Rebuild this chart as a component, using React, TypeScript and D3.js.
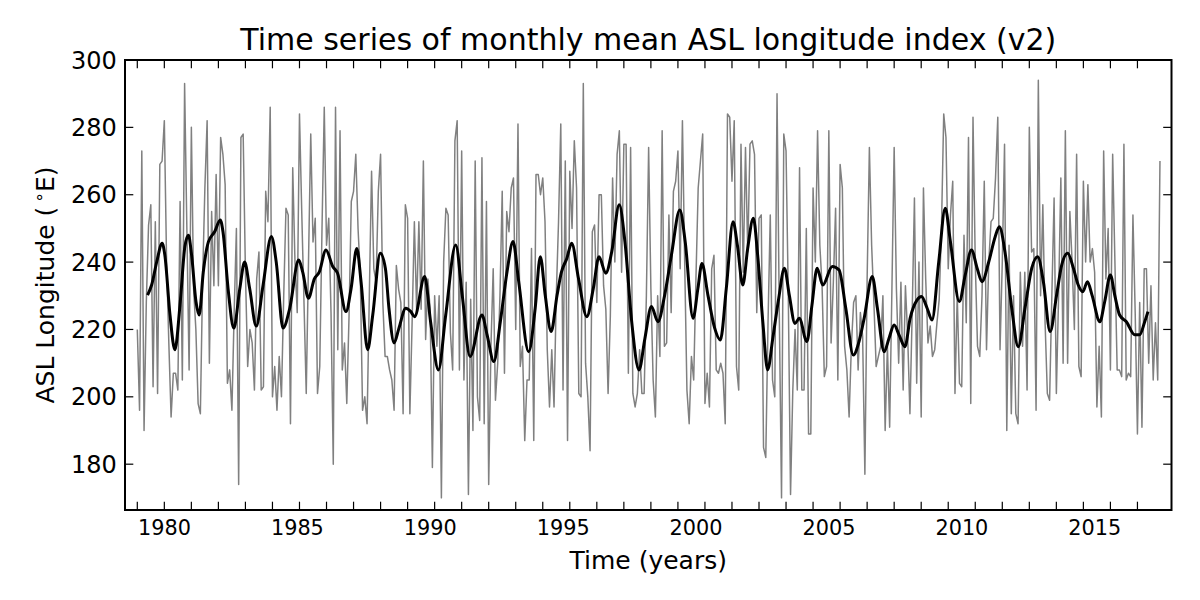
import * as d3 from 'd3'

// monthly ASL longitude index (deg E), one row per year, starting Jan 1979
const lon1979to1988 = [
  220, 196, 273, 190, 228, 251, 257, 203, 252, 201, 269, 270,
  282, 240, 216, 194, 207, 207, 202, 258, 205, 293, 250, 208,
  280, 232, 220, 198, 195, 235, 262, 282, 210, 255, 233, 266,
  233, 277, 272, 263, 204, 208, 196, 225, 250, 174, 277, 278,
  237, 209, 220, 216, 202, 235, 243, 202, 203, 261, 252, 286,
  200, 209, 196, 212, 200, 230, 256, 254, 192, 268, 240, 225,
  284, 255, 228, 201, 240, 278, 246, 253, 201, 209, 250, 286,
  245, 253, 225, 180, 286, 214, 279, 208, 216, 198, 224, 258,
  261, 272, 250, 236, 196, 200, 192, 230, 267, 238, 234, 261,
  272, 228, 212, 212, 208, 205, 196, 239, 232, 228, 195, 257,
]
const lon1989to1998 = [
  253, 195, 222, 252, 226, 252, 226, 270, 217, 235, 226, 179,
  230, 215, 230, 170, 240, 256, 254, 219, 208, 276, 282, 208,
  273, 205, 234, 171, 229, 190, 270, 200, 193, 271, 192, 258,
  174, 215, 238, 199, 210, 230, 261, 207, 255, 249, 262, 265,
  220, 281, 209, 215, 187, 205, 205, 244, 187, 266, 266, 260,
  265, 252, 214, 197, 214, 197, 230, 252, 281, 202, 270, 187,
  267, 250, 276, 262, 201, 200, 293, 210, 200, 184, 249, 251,
  228, 260, 260, 233, 226, 201, 224, 265, 240, 272, 279, 237,
  275, 275, 207, 274, 201, 197, 201, 214, 201, 201, 230, 274,
  232, 205, 194, 230, 212, 279, 215, 216, 254, 225, 261, 264,
]
const lon1999to2008 = [
  273, 238, 282, 240, 202, 192, 212, 205, 235, 262, 270, 278,
  198, 207, 197, 238, 242, 208, 207, 210, 207, 192, 284, 283,
  264, 282, 209, 202, 275, 237, 274, 243, 275, 276, 272, 225,
  253, 254, 185, 182, 222, 254, 205, 200, 290, 225, 170, 278,
  273, 230, 171, 202, 220, 202, 268, 202, 202, 250, 189, 189,
  262, 240, 279, 245, 233, 206, 209, 279, 216, 234, 256, 205,
  269, 262, 215, 208, 194, 215, 228, 230, 208, 225, 218, 177,
  235, 274, 245, 228, 209, 212, 215, 230, 190, 215, 191, 232,
  274, 232, 210, 234, 202, 233, 218, 195, 225, 259, 204, 240,
  194, 262, 235, 216, 221, 212, 214, 222, 229, 250, 284, 277,
]
const lon2009to2016 = [
  238, 254, 264, 201, 230, 204, 203, 248, 222, 277, 198, 283,
  240, 215, 212, 230, 264, 214, 240, 252, 253, 265, 283, 214,
  240, 275, 190, 245, 195, 230, 195, 192, 237, 215, 237, 202,
  280, 243, 244, 196, 294, 230, 257, 222, 201, 199, 230, 259,
  201, 230, 265, 210, 279, 210, 255, 240, 220, 272, 209, 206,
  264, 240, 263, 240, 244, 237, 197, 215, 194, 273, 235, 250,
  208, 272, 240, 208, 208, 206, 275, 205, 207, 206, 254, 225,
  189, 228, 191, 238, 238, 210, 233, 205, 222, 205, 270,
]
const startYear = 1979

const smoothKnots: [number, number][] = [
  [1979.38, 230.2], [1979.53, 233.2], [1979.72, 240.1], [1979.92, 245.6], [1980.02, 242],
  [1980.21, 224.3], [1980.39, 214], [1980.58, 227.3], [1980.76, 244.6], [1980.89, 248],
  [1981.01, 242], [1981.17, 228.3], [1981.29, 224.3], [1981.44, 237], [1981.63, 246],
  [1981.86, 249], [1982.07, 252.5], [1982.17, 249], [1982.36, 232], [1982.57, 220.4],
  [1982.79, 232], [1982.97, 240], [1983.16, 232], [1983.4, 221], [1983.65, 233],
  [1983.96, 247.6], [1984.14, 240], [1984.39, 220.4], [1984.64, 226.3], [1984.97, 240.6],
  [1985.12, 237], [1985.33, 229.3], [1985.55, 235], [1985.73, 237], [1985.98, 243.6],
  [1986.23, 238.7], [1986.41, 236.7], [1986.72, 225.3], [1986.91, 232.2], [1987.12, 244],
  [1987.28, 234], [1987.52, 214], [1987.71, 224.3], [1987.99, 242.6], [1988.18, 238],
  [1988.31, 226.3], [1988.5, 216], [1988.68, 220.4], [1988.93, 226.3], [1989.12, 225.3],
  [1989.26, 223.8], [1989.63, 235.7], [1989.85, 222.3], [1990.14, 208], [1990.41, 224.3],
  [1990.78, 245.1], [1991.02, 230.2], [1991.31, 212], [1991.75, 224.3], [1991.94, 218.4],
  [1992.19, 210.5], [1992.43, 222.3], [1992.68, 237.2], [1992.9, 246.1], [1993.11, 234.2],
  [1993.48, 213.4], [1993.72, 226.3], [1993.91, 241.6], [1994.09, 230.2], [1994.31, 219.4],
  [1994.53, 230.2], [1994.69, 237], [1994.89, 241.1], [1995.07, 245.6], [1995.32, 235.2],
  [1995.63, 223.8], [1995.87, 232.2], [1996.08, 241.6], [1996.33, 236.7], [1996.55, 243],
  [1996.83, 257], [1997.04, 246], [1997.29, 222.3], [1997.56, 208], [1997.78, 217.4],
  [1998.02, 226.8], [1998.26, 222.3], [1998.51, 230.2], [1998.76, 242.1], [1999.07, 255.5],
  [1999.27, 246], [1999.56, 223.3], [1999.74, 232.2], [1999.89, 239.6], [2000.11, 230.2],
  [2000.36, 220.4], [2000.57, 216.9], [2000.79, 232.2], [2001.04, 252], [2001.2, 245],
  [2001.4, 233.2], [2001.58, 244], [2001.79, 253], [2001.95, 242.1], [2002.14, 222.3],
  [2002.32, 208], [2002.51, 217.4], [2002.73, 229.3], [2002.94, 238.2], [2003.12, 230.2],
  [2003.33, 221.8], [2003.49, 223.3], [2003.77, 216.4], [2003.96, 227.3], [2004.15, 238.2],
  [2004.36, 233.2], [2004.71, 238.7], [2004.96, 237.7], [2005.21, 226.3], [2005.49, 212.4],
  [2005.7, 216.4], [2005.89, 223.3], [2006.19, 235.7], [2006.38, 226.3], [2006.63, 213.4],
  [2006.81, 217.4], [2007.0, 221.3], [2007.18, 218.4], [2007.4, 214.9], [2007.59, 223.3],
  [2007.85, 228.8], [2008.01, 229.8], [2008.22, 226.3], [2008.4, 222.8], [2008.65, 240.1],
  [2008.89, 256], [2009.08, 246.1], [2009.41, 228.3], [2009.63, 236.2], [2009.86, 243.6],
  [2010.07, 238.2], [2010.25, 234.2], [2010.5, 240.1], [2010.74, 247.6], [2010.89, 250.5],
  [2011.1, 243], [2011.35, 226.3], [2011.59, 214.9], [2011.84, 226.3], [2012.09, 238.2],
  [2012.31, 241.6], [2012.52, 234.2], [2012.77, 219.4], [2013.01, 230.2], [2013.2, 239.2],
  [2013.42, 242.6], [2013.63, 238.2], [2013.81, 233.2], [2013.98, 231.2], [2014.15, 234.2],
  [2014.32, 230.2], [2014.61, 222.3], [2014.79, 228.3], [2015.0, 236.2], [2015.16, 230.2],
  [2015.34, 224.3], [2015.59, 222.3], [2015.9, 218.4], [2016.08, 218.4], [2016.27, 222.3],
  [2016.39, 225.3],
]

const yTicks = [180, 200, 220, 240, 260, 280, 300]
const xLabelYears = [1980, 1985, 1990, 1995, 2000, 2005, 2010, 2015]
const xTickYears = d3.range(1979, 2017)

const W = 1200
const H = 600
const plot = { left: 125, right: 1171.5, top: 60, bottom: 510 }
const font = '"DejaVu Sans", sans-serif'
const tickLen = 8.3

export default function App() {
  // data + tick axis (one tick per 12 samples)
  const x = d3.scaleLinear().domain([1978.545, 2017.26]).range([plot.left, plot.right])
  // calendar axis used for the year labels (slightly different span in the original)
  const xCal = d3.scaleLinear().domain([1978.514, 2017.886]).range([plot.left, plot.right])
  const y = d3.scaleLinear().domain([166.4, 300]).range([plot.bottom, plot.top])

  const monthly = [...lon1979to1988, ...lon1989to1998, ...lon1999to2008, ...lon2009to2016]
  const rawPts: [number, number][] = monthly.map((v, i) => [startYear + i / 12, v])

  const rawLine = d3.line<[number, number]>().x(d => x(d[0])).y(d => y(d[1]))
  const smoothLine = d3.line<[number, number]>()
    .x(d => x(d[0]))
    .y(d => y(d[1]))
    .curve(d3.curveMonotoneX)

  const cx = (plot.left + plot.right) / 2
  const cy = (plot.top + plot.bottom) / 2

  return (
    <div style={{ position: 'absolute', left: 0, top: 0 }}>
      <svg width={W} height={H} style={{ display: 'block', background: '#fff' }} fontFamily={font}>
        <defs>
          <clipPath id="plot-clip">
            <rect x={plot.left} y={plot.top} width={plot.right - plot.left} height={plot.bottom - plot.top} />
          </clipPath>
        </defs>

        <g clipPath="url(#plot-clip)">
          <path d={rawLine(rawPts) || ''} fill="none" stroke="#808080" strokeWidth={1.5} strokeLinejoin="round" />
          <path d={smoothLine(smoothKnots) || ''} fill="none" stroke="#000" strokeWidth={3} strokeLinejoin="round" />
        </g>

        {/* x ticks, inward, bottom and top */}
        {xTickYears.map(t => (
          <g key={'xt' + t} stroke="#000" strokeWidth={1.2}>
            <line x1={x(t)} x2={x(t)} y1={plot.bottom} y2={plot.bottom - tickLen} />
            <line x1={x(t)} x2={x(t)} y1={plot.top} y2={plot.top + tickLen} />
          </g>
        ))}
        {xLabelYears.map(t => (
          <text key={'xl' + t} x={xCal(t)} y={535} textAnchor="middle" fontSize={20.8} fill="#000">{t}</text>
        ))}

        {/* y ticks, inward, left and right */}
        {yTicks.map(t => (
          <g key={'yt' + t}>
            <line x1={plot.left} x2={plot.left + tickLen} y1={y(t)} y2={y(t)} stroke="#000" strokeWidth={1.2} />
            <line x1={plot.right} x2={plot.right - tickLen} y1={y(t)} y2={y(t)} stroke="#000" strokeWidth={1.2} />
            <text x={plot.left - 8.3} y={y(t) + 8.5} textAnchor="end" fontSize={24} fill="#000">{t}</text>
          </g>
        ))}

        <rect x={plot.left} y={plot.top} width={plot.right - plot.left} height={plot.bottom - plot.top}
          fill="none" stroke="#000" strokeWidth={2} />

        <text x={cx} y={50} textAnchor="middle" fontSize={30} fill="#000">
          Time series of monthly mean ASL longitude index (v2)
        </text>
        <text x={cx} y={569} textAnchor="middle" fontSize={25} fill="#000">Time (years)</text>
        <text transform={`translate(54,${cy}) rotate(-90)`} textAnchor="middle" fontSize={25} fill="#000">
          ASL Longitude (<tspan dx={4} dy={-9} fontSize={17}>∘</tspan><tspan dy={9}>E)</tspan>
        </text>
      </svg>
    </div>
  )
}
